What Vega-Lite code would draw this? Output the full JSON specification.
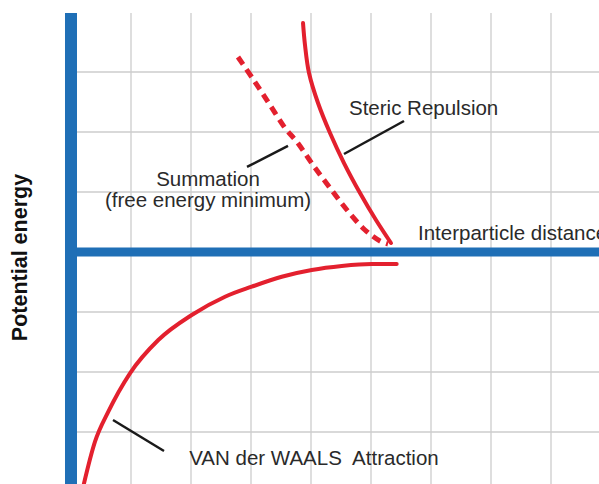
{
  "$schema": "https://vega.github.io/schema/vega-lite/v6.json",
  "width": 599,
  "height": 484,
  "autosize": {"type": "fit", "contains": "padding"},
  "padding": 0,
  "background": "white",
  "config": {"view": {"stroke": null}},
  "datasets": {
    "steric": [
      {"x": 3.867, "y": 3.817}, {"x": 3.9, "y": 3.45}, {"x": 3.967, "y": 2.983}, {"x": 4.117, "y": 2.483},
      {"x": 4.317, "y": 1.983}, {"x": 4.55, "y": 1.483}, {"x": 4.817, "y": 0.983},
      {"x": 5.083, "y": 0.533}, {"x": 5.333, "y": 0.15}
    ],
    "summation": [
      {"x": 2.783, "y": 3.25}, {"x": 3.067, "y": 2.833}, {"x": 3.317, "y": 2.45}, {"x": 3.567, "y": 2.067},
      {"x": 3.767, "y": 1.833}, {"x": 4.033, "y": 1.45}, {"x": 4.317, "y": 1.067}, {"x": 4.6, "y": 0.7},
      {"x": 4.9, "y": 0.367}, {"x": 5.15, "y": 0.183}, {"x": 5.283, "y": 0.133}
    ],
    "vdw": [
      {"x": 0.16, "y": -4.1}, {"x": 0.4, "y": -3.162}, {"x": 0.622, "y": -2.662},
      {"x": 0.983, "y": -2.022}, {"x": 1.455, "y": -1.467}, {"x": 2.012, "y": -1.05},
      {"x": 2.567, "y": -0.745}, {"x": 3.012, "y": -0.578}, {"x": 3.512, "y": -0.412},
      {"x": 4.012, "y": -0.3}, {"x": 4.512, "y": -0.233}, {"x": 5.012, "y": -0.2}, {"x": 5.428, "y": -0.2}
    ]
  },
  "encoding": {
    "x": {"type": "quantitative", "scale": {"domain": [-1.1833, 8.8], "nice": false, "zero": false}, "axis": null},
    "y": {"type": "quantitative", "scale": {"domain": [-3.8667, 4.2], "nice": false, "zero": false}, "axis": null}
  },
  "layer": [
    {
      "data": {"values": [{"g": 1}, {"g": 2}, {"g": 3}, {"g": 4}, {"g": 5}, {"g": 6}, {"g": 7}, {"g": 8}]},
      "mark": {"type": "rule", "color": "#cccccc", "strokeWidth": 1.3, "clip": true},
      "encoding": {"x": {"field": "g", "type": "quantitative"}, "y": {"datum": 3.983}, "y2": {"datum": -3.9}}
    },
    {
      "data": {"values": [{"g": -3}, {"g": -2}, {"g": -1}, {"g": 1}, {"g": 2}, {"g": 3}]},
      "mark": {"type": "rule", "color": "#cccccc", "strokeWidth": 1.3, "clip": true},
      "encoding": {"y": {"field": "g", "type": "quantitative"}, "x": {"datum": 0.05}, "x2": {"datum": 8.8}}
    },
    {
      "data": {"values": [{"g": 0}]},
      "mark": {"type": "rule", "color": "#1f6fb6", "strokeWidth": 9, "clip": true},
      "encoding": {"y": {"field": "g", "type": "quantitative"}, "x": {"datum": 0.05}, "x2": {"datum": 8.8}}
    },
    {
      "data": {"values": [{"g": 0}]},
      "mark": {"type": "rule", "color": "#1f6fb6", "strokeWidth": 12, "clip": true},
      "encoding": {"x": {"field": "g", "type": "quantitative"}, "y": {"datum": 3.983}, "y2": {"datum": -3.9}}
    },
    {
      "data": {"name": "steric"},
      "mark": {"type": "line", "color": "#e3202e", "strokeWidth": 4, "strokeCap": "round", "interpolate": "catmull-rom", "clip": true},
      "encoding": {"x": {"field": "x", "type": "quantitative"}, "y": {"field": "y", "type": "quantitative"}, "order": {"field": "x"}}
    },
    {
      "data": {"name": "vdw"},
      "mark": {"type": "line", "color": "#e3202e", "strokeWidth": 4, "strokeCap": "round", "interpolate": "monotone", "clip": true},
      "encoding": {"x": {"field": "x", "type": "quantitative"}, "y": {"field": "y", "type": "quantitative"}, "order": {"field": "x"}}
    },
    {
      "data": {"name": "summation"},
      "mark": {"type": "line", "color": "#e3202e", "strokeWidth": 5, "strokeDash": [9, 6], "interpolate": "catmull-rom", "clip": true},
      "encoding": {"x": {"field": "x", "type": "quantitative"}, "y": {"field": "y", "type": "quantitative"}, "order": {"field": "x"}}
    },
    {
      "data": {"values": [
        {"x1": 2.933, "y1": 1.417, "x2": 3.617, "y2": 1.767},
        {"x1": 4.55, "y1": 1.633, "x2": 5.55, "y2": 2.183},
        {"x1": 0.7, "y1": -2.8, "x2": 1.55, "y2": -3.317}
      ]},
      "mark": {"type": "rule", "color": "#1a1a1a", "strokeWidth": 2.5},
      "encoding": {
        "x": {"field": "x1", "type": "quantitative"}, "y": {"field": "y1", "type": "quantitative"},
        "x2": {"field": "x2"}, "y2": {"field": "y2"}
      }
    },
    {
      "data": {"values": [
        {"t": "Steric Repulsion", "x": 4.633, "y": 2.275},
        {"t": "Interparticle distance", "x": 5.783, "y": 0.2},
        {"t": "VAN der WAALS\u00a0 Attraction", "x": 1.97, "y": -3.55}
      ]},
      "mark": {"type": "text", "align": "left", "baseline": "alphabetic", "font": "Liberation Sans", "fontSize": 20.5, "color": "#2a2a2a", "clip": true},
      "encoding": {"x": {"field": "x", "type": "quantitative"}, "y": {"field": "y", "type": "quantitative"}, "text": {"field": "t"}}
    },
    {
      "data": {"values": [
        {"t": "Summation", "x": 2.283, "y": 1.1},
        {"t": "(free energy minimum)", "x": 2.283, "y": 0.75}
      ]},
      "mark": {"type": "text", "align": "center", "baseline": "alphabetic", "font": "Liberation Sans", "fontSize": 20.5, "color": "#2a2a2a"},
      "encoding": {"x": {"field": "x", "type": "quantitative"}, "y": {"field": "y", "type": "quantitative"}, "text": {"field": "t"}}
    },
    {
      "data": {"values": [{"t": "Potential energy", "x": -0.733, "y": -0.092}]},
      "mark": {"type": "text", "align": "center", "baseline": "alphabetic", "angle": 270, "font": "Liberation Sans", "fontWeight": "bold", "fontSize": 21.5, "color": "#111111"},
      "encoding": {"x": {"field": "x", "type": "quantitative"}, "y": {"field": "y", "type": "quantitative"}, "text": {"field": "t"}}
    }
  ]
}
